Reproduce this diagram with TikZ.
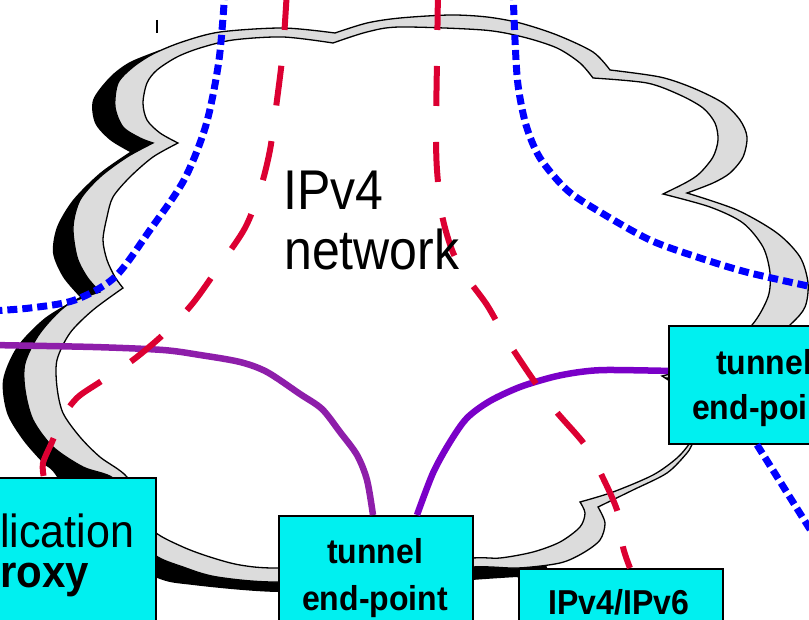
\documentclass[tikz,border=0pt]{standalone}
\usepackage{fontspec}
\setmainfont{Liberation Sans}
\usepackage{graphicx}
\definecolor{cyanbox}{RGB}{0,240,240}
\definecolor{greyc}{RGB}{220,220,220}
\definecolor{redl}{RGB}{220,0,50}
\definecolor{bluel}{RGB}{0,0,255}
\definecolor{purpA}{RGB}{142,30,170}
\definecolor{purpB}{RGB}{122,0,200}
\newcommand\bxfont{\fontsize{32}{33}\selectfont\bfseries}
\newcommand\vst[1]{\scalebox{1}[1.08]{#1}}
\newcommand\vsl[1]{\scalebox{1}[1.12]{#1}}
\begin{document}
\begin{tikzpicture}[x=1pt,y=-1pt,
  box/.style={draw=black,line width=1.8pt,fill=cyanbox,rectangle,inner sep=0pt,anchor=north west},
  redline/.style={draw=redl,line width=6pt,dash pattern=on 40pt off 36pt},
  blueline/.style={draw=bluel,line width=7pt,dash pattern=on 10pt off 5pt},
  purpline/.style={line width=6.5pt,line join=round},
  cloudline/.style={draw=black,line width=1.3pt},
  lbl/.style={inner sep=0pt,text=black},
]
\useasboundingbox (0,0) rectangle (809,620);
\clip (0,0) rectangle (809,620);
% black shadow
\fill[black] plot[smooth] coordinates {(160,50) (130,62) (110,77) (93,100) (95,123) (110,140) (130,152)}
  -- plot[smooth] coordinates {(130,152) (100,173) (73,200) (57,227) (53,253) (63,277) (80,297)}
  -- plot[smooth] coordinates {(80,297) (45,318) (17,347) (3,380) (7,413) (23,440) (43,463) (57,477) (90,540) (155,577) (193,585) (278,592) (375,588) (472,580) (517,577)}
  -- (560,600) -- (500,450) -- cycle;
% grey outer cloud
\path[cloudline,fill=greyc]
  plot[smooth] coordinates {(153,143) (140,138) (123,127) (115,107) (118,83) (133,67) (153,54) (182,42) (220,32) (283,28) (335,33)}
  -- plot[smooth] coordinates {(335,33) (367,23) (400,18) (450,15) (487,17) (520,23) (557,35) (593,52) (610,70)}
  -- plot[smooth] coordinates {(610,70) (660,77) (693,88) (723,103) (740,120) (747,137) (743,157) (730,173) (713,183) (687,193)}
  -- plot[smooth] coordinates {(687,193) (737,210) (777,233) (800,257) (808,283) (805,307) (790,325) (750,360) (705,375) (666,378)}
  -- plot[smooth] coordinates {(666,378) (700,400) (706,425) (693,443) (687,453) (667,473) (633,490) (598,507)}
  -- plot[smooth] coordinates {(598,507) (605,523) (600,540) (583,553) (560,563) (518,568) (472,567) (375,575) (278,582) (217,577) (183,567) (155,555) (140,530) (132,505)}
  -- plot[smooth] coordinates {(132,505) (113,478) (83,467) (53,447) (33,420) (25,390) (25,363) (40,333) (67,305) (100,292)}
  -- plot[smooth] coordinates {(100,292) (87,277) (77,257) (73,227) (80,200) (100,177) (127,157) (153,143)}
  -- cycle;
% white inner cloud
\path[cloudline,fill=white]
  plot[smooth] coordinates {(178,143) (160,133) (147,120) (143,103) (147,83) (157,70) (177,57) (200,48) (233,40) (283,37) (333,43)}
  -- plot[smooth] coordinates {(333,43) (367,32) (400,27) (483,30) (523,37) (557,48) (580,63) (593,78)}
  -- plot[smooth] coordinates {(593,78) (647,83) (680,95) (703,108) (715,123) (718,140) (713,157) (700,173) (687,182) (663,194)}
  -- plot[smooth] coordinates {(663,194) (710,207) (743,223) (763,247) (770,273) (768,297) (752,325) (720,352) (690,368) (662,376)}
  -- plot[smooth] coordinates {(662,376) (695,400) (702,425) (690,443) (677,458) (653,475) (613,492) (580,502)}
  -- plot[smooth] coordinates {(580,502) (585,513) (580,527) (560,542) (533,552) (500,558) (472,558) (375,564) (278,568) (240,565) (210,557) (183,547) (155,532) (143,510)}
  -- plot[smooth] coordinates {(143,510) (127,477) (100,457) (80,437) (63,413) (57,387) (57,360) (70,333) (93,310) (123,288)}
  -- plot[smooth] coordinates {(123,288) (115,277) (107,260) (103,240) (107,217) (113,197) (130,177) (153,157) (178,143)}
  -- cycle;
% small mark
\draw[line width=1.5pt] (157,20) -- (157,33);
% boxes
\node[box,minimum width=255pt,minimum height=210pt] (A) at (-100,477) {};
\node[box,minimum width=194pt,minimum height=190pt] (B) at (278,515) {};
\node[box,minimum width=195pt,minimum height=118pt] (C) at (668,325) {};
\node[box,minimum width=204pt,minimum height=150pt] (D) at (518,568) {};
% connector end points
\coordinate (lw1) at (-10,345);
\coordinate (bP1) at ([xshift=95pt]B.north west);
\coordinate (bP2) at ([xshift=139pt]B.north west);
\coordinate (cP2) at ([yshift=14pt]C.west);
\coordinate (r1top) at (287,-10);
\coordinate (r1bot) at ([xshift=-113pt]A.north east);
\coordinate (r2top) at (438,-10);
\coordinate (r2bot) at ([xshift=112pt]D.north west);
\coordinate (b1top) at (225,-10);
\coordinate (b1left) at (-10,311);
\coordinate (b2top) at (513,-10);
\coordinate (b2right) at (822,289);
\coordinate (b3start) at ([xshift=89pt]C.south west);
\coordinate (b3end) at (818,542);
% purple
\draw[purpline,purpA] plot[smooth] coordinates {(lw1) (93,347) (163,350) (200,355) (240,362) (267,372) (300,394) (322,409) (340,432) (357,455) (367,480) (bP1)};
\draw[purpline,purpB] plot[smooth] coordinates {(bP2) (433,473) (450,442) (467,418) (490,401) (520,387) (553,377) (580,372) (607,370) (cP2)};
% red
\draw[redline] plot[smooth] coordinates {(r1top) (283,50) (277,100) (270,150) (260,190) (245,228) (220,265) (193,303) (165,333) (133,360) (100,382) (78,397) (64,415) (52,442) (43,463) (r1bot)};
\draw[redline] plot[smooth] coordinates {(r2top) (437,60) (436,130) (437,170) (442,215) (452,250) (465,275) (487,305) (507,340) (530,375) (555,410) (585,445) (603,478) (618,513) (623,547) (r2bot)};
% blue
\draw[blueline] plot[smooth] coordinates {(b1top) (219,60) (206,125) (184,180) (150,230) (115,277) (75,300) (30,308) (b1left)};
\draw[blueline] plot[smooth] coordinates {(b2top) (515,40) (518,85) (526,125) (540,158) (567,190) (600,212) (650,240) (700,258) (750,273) (b2right)};
\draw[blueline] (b3start) -- (b3end);
% texts
\node[lbl,anchor=base west] (net1) at (283,210) {\fontsize{50}{51}\selectfont\vsl{IPv4}};
\node[lbl,anchor=base west] (net2) at (284,270) {\fontsize{50}{51}\selectfont\vsl{network}};
\node[lbl,anchor=base west] (a1) at (0,547) {\fontsize{43}{44}\selectfont\vst{lication}};
\node[lbl,anchor=base west] (a2) at (0,587) {\fontsize{42}{43}\selectfont\bfseries\vst{roxy}};
\node[lbl,anchor=base] (b1) at (375,563) {\bxfont\vst{tunnel}};
\node[lbl,anchor=base] (b2) at (375,610) {\bxfont\vst{end-point}};
\node[lbl,anchor=base west] (c1) at (716,375) {\bxfont\vst{tunnel}};
\node[lbl,anchor=base west] (c2) at (692,420) {\bxfont\vst{end-poi}};
\node[lbl,anchor=base] (d1) at (619,614) {\bxfont\vst{IPv4/IPv6}};
\end{tikzpicture}
\end{document}
